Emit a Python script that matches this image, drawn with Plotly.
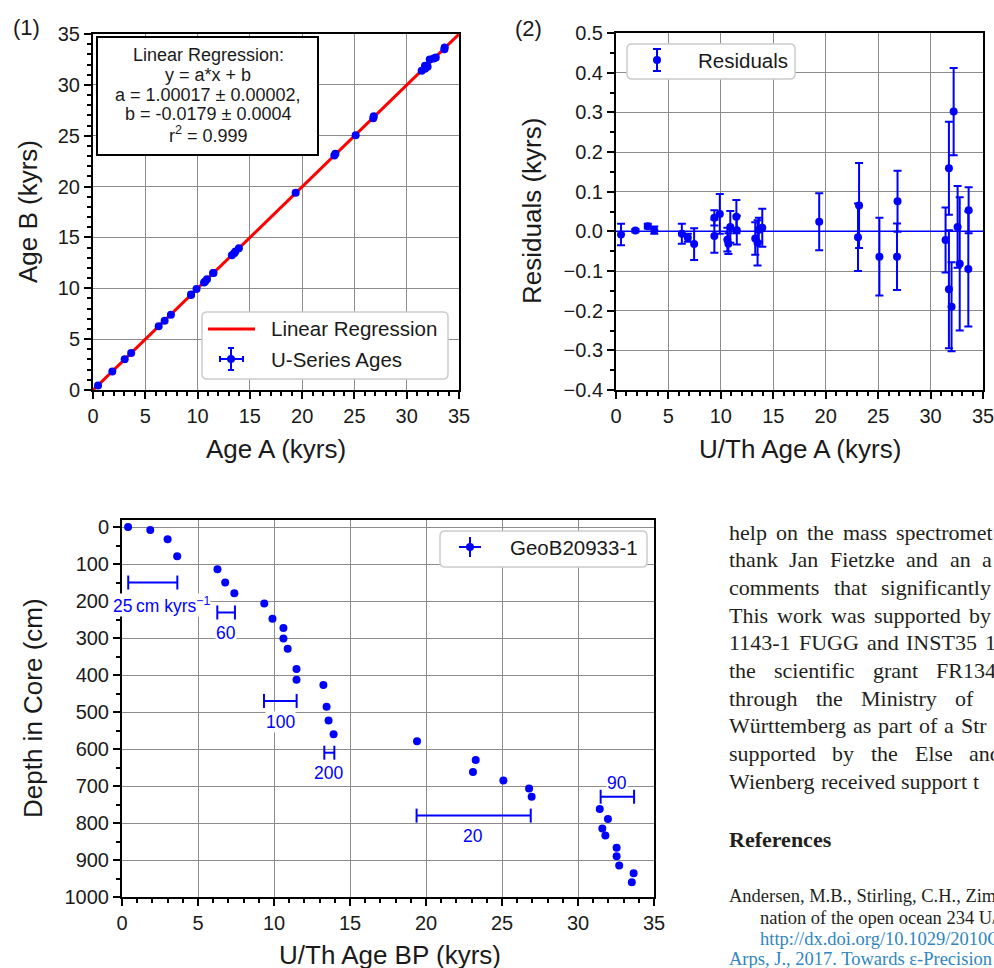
import plotly.graph_objects as go

W, H = 994, 968

# (1) + (2): age A vs age B, residuals
age_a = [0.48, 1.85, 3.03, 3.65, 6.28, 6.85, 7.45, 9.38, 9.38, 9.90, 10.62, 10.72, 10.90, 11.48, 11.52,
         13.28, 13.50, 13.62, 13.95, 19.38, 23.08, 23.18, 25.12, 26.80, 26.85,
         31.43, 31.75, 31.75, 32.00, 32.20, 32.58, 32.78, 33.60, 33.63]
age_b = [0.45, 1.83, 3.03, 3.63, 6.26, 6.82, 7.40, 9.40, 9.35, 9.93, 10.58, 10.67, 10.89, 11.50, 11.51,
         13.24, 13.45, 13.61, 13.94, 19.39, 23.05, 23.23, 25.04, 26.72, 26.91,
         31.39, 31.89, 31.59, 31.79, 32.49, 32.58, 32.68, 33.49, 33.67]
residuals = [-0.008, 0.002, 0.013, 0.003, -0.006, -0.016, -0.032, 0.034, -0.012, 0.044, -0.021, -0.031, 0.011,
             0.037, 0.003, -0.018, -0.029, 0.004, 0.009, 0.024, -0.015, 0.065, -0.064, -0.064, 0.076,
             -0.022, 0.159, -0.146, -0.190, 0.302, 0.011, -0.082, -0.095, 0.053]
res_err = [0.027, 0.004, 0.006, 0.009, 0.025, 0.010, 0.040, 0.019, 0.042, 0.050, 0.030, 0.026, 0.040,
           0.042, 0.036, 0.041, 0.057, 0.030, 0.048, 0.072, 0.085, 0.107, 0.098, 0.084, 0.077,
           0.082, 0.117, 0.149, 0.112, 0.110, 0.103, 0.168, 0.145, 0.058]
reg_x = [0, 35]
reg_y = [-0.018, 34.988]
fit_lines = ["Linear Regression:", "y = a*x + b", "a = 1.00017 \u00b1 0.00002,",
             "b = -0.0179 \u00b1 0.0004", "r<sup>2</sup> = 0.999"]

# (3): depth profile GeoB20933-1
core_age = [0.40, 1.86, 3.00, 3.63, 6.28, 6.79, 7.39, 9.36, 9.90, 10.62, 10.62, 10.90, 11.48, 11.48,
            13.25, 13.46, 13.59, 13.92, 19.41, 23.27, 23.09, 25.09, 26.78, 26.95,
            31.43, 31.97, 31.60, 31.80, 32.54, 32.54, 32.71, 33.66, 33.54]
core_depth = [0, 8, 33, 79, 114, 150, 179, 207, 248, 273, 301, 329, 384, 413,
              427, 486, 523, 560, 579, 630, 662, 685, 707, 729,
              762, 789, 815, 834, 867, 890, 915, 936, 960]
core_err = [0.05] * len(core_age)
rate_labels = ["25\u2009cm kyrs<sup>\u22121</sup>", "60", "100", "200", "20", "90"]
rate_start = [0.41, 6.27, 9.34, 13.31, 19.38, 31.49]
rate_end = [3.64, 7.43, 11.49, 13.97, 26.89, 33.69]
rate_depth = [150, 231, 470, 610, 780, 729]
rate_lab_age = [2.6, 6.85, 10.4, 13.6, 23.12, 32.54]
rate_lab_depth = [210, 286, 527, 665, 835, 693]

BLUE = "#0000ff"
SANS = "Liberation Sans"
SERIF = "Liberation Serif"


def px(x):
    return x / W


def py(y):
    return 1 - y / H


fig = go.Figure()

# panel 1
fig.add_trace(go.Scatter(x=reg_x, y=reg_y, mode="lines", line=dict(color="#ff0000", width=3),
                         xaxis="x", yaxis="y", showlegend=False))
fig.add_trace(go.Scatter(x=age_a, y=age_b, mode="markers", marker=dict(color=BLUE, size=8),
                         error_x=dict(type="data", array=res_err, color=BLUE, thickness=1.5, width=3),
                         error_y=dict(type="data", array=res_err, color=BLUE, thickness=1.5, width=3),
                         xaxis="x", yaxis="y", showlegend=False))

# panel 2
fig.add_trace(go.Scatter(x=[0, 35], y=[0, 0], mode="lines", line=dict(color=BLUE, width=1.5),
                         xaxis="x2", yaxis="y2", showlegend=False))
fig.add_trace(go.Scatter(x=age_a, y=residuals, mode="markers", marker=dict(color=BLUE, size=8),
                         error_y=dict(type="data", array=res_err, color=BLUE, thickness=2, width=4),
                         xaxis="x2", yaxis="y2", showlegend=False))

# panel 3
seg_x, seg_y = [], []
for s, e, d in zip(rate_start, rate_end, rate_depth):
    seg_x += [s, e, None]
    seg_y += [d, d, None]
fig.add_trace(go.Scatter(x=seg_x, y=seg_y, mode="lines+markers", line=dict(color=BLUE, width=2),
                         marker=dict(symbol="line-ns-open", size=10, line=dict(color=BLUE, width=2)),
                         xaxis="x3", yaxis="y3", showlegend=False))
fig.add_trace(go.Scatter(x=core_age, y=core_depth, mode="markers", marker=dict(color=BLUE, size=8),
                         error_x=dict(type="data", array=core_err, color=BLUE, thickness=1, width=0),
                         error_y=dict(type="data", array=core_err, color=BLUE, thickness=1, width=0),
                         xaxis="x3", yaxis="y3", showlegend=False))


def ax(dom, rng, dtick, minor, anchor, **kw):
    d = dict(domain=dom, range=rng, dtick=dtick, anchor=anchor, showline=True, linewidth=2,
             linecolor="black", mirror=True, ticks="outside", ticklen=7, tickwidth=2,
             tickcolor="black", showgrid=True, gridcolor="#8c8c8c", gridwidth=1.2, zeroline=False,
             automargin=False, ticklabeloverflow="allow",
             tickfont=dict(family=SANS, size=20, color="#1a1a1a"),
             minor=dict(dtick=minor, ticks="outside", ticklen=4, tickwidth=1.5,
                        tickcolor="black", showgrid=False))
    d.update(kw)
    return d


fig.update_layout(
    width=W, height=H, margin=dict(l=0, r=0, t=0, b=0, pad=0, autoexpand=False),
    paper_bgcolor="white", plot_bgcolor="white", showlegend=False,
    xaxis=ax([px(93), px(459)], [0, 35], 5, 1, "y", tick0=0),
    yaxis=ax([py(390), py(34)], [0, 35], 5, 1, "x", tick0=0),
    xaxis2=ax([px(616), px(983)], [0, 35], 5, 1, "y2", tick0=0),
    yaxis2=ax([py(390), py(33)], [-0.4, 0.5], 0.1, 0.05, "x2", tick0=0, tickformat=".1f"),
    xaxis3=ax([px(122), px(654)], [0, 35], 5, 1, "y3", tick0=0),
    yaxis3=ax([py(897), py(520)], [1000, -19], 100, 50, "x3", tick0=0),
)

ann = []
shapes = []


def text(x, y, s, size, family=SANS, color="#1a1a1a", xanchor="center", angle=0, **kw):
    ann.append(dict(x=px(x), y=py(y), xref="paper", yref="paper", text=s, showarrow=False,
                    xanchor=xanchor, yanchor="middle", textangle=angle,
                    font=dict(family=family, size=size, color=color), **kw))


def rbox(x0, y0, x1, y1, r=5, line="#cccccc", width=1.5):
    p = (f"M {px(x0 + r)},{py(y0)} L {px(x1 - r)},{py(y0)} Q {px(x1)},{py(y0)} {px(x1)},{py(y0 + r)} "
         f"L {px(x1)},{py(y1 - r)} Q {px(x1)},{py(y1)} {px(x1 - r)},{py(y1)} "
         f"L {px(x0 + r)},{py(y1)} Q {px(x0)},{py(y1)} {px(x0)},{py(y1 - r)} "
         f"L {px(x0)},{py(y0 + r)} Q {px(x0)},{py(y0)} {px(x0 + r)},{py(y0)} Z")
    shapes.append(dict(type="path", path=p, xref="paper", yref="paper", fillcolor="white",
                       line=dict(color=line, width=width), layer="above"))


def seg(x0, y0, x1, y1, color=BLUE, width=2):
    shapes.append(dict(type="line", xref="paper", yref="paper", x0=px(x0), y0=py(y0), x1=px(x1),
                       y1=py(y1), line=dict(color=color, width=width), layer="above"))


def dot(cx, cy, r=4):
    shapes.append(dict(type="circle", xref="paper", yref="paper", x0=px(cx - r), x1=px(cx + r),
                       y0=py(cy + r), y1=py(cy - r), fillcolor=BLUE, line=dict(width=0),
                       layer="above"))


# panel labels and axis titles
text(26, 27, "(1)", 22)
text(528, 28, "(2)", 22)
text(276, 449, "Age A (kyrs)", 26)
text(28, 212, "Age B (kyrs)", 26, angle=-90)
text(800, 449, "U/Th Age A (kyrs)", 26)
text(532, 211, "Residuals (kyrs)", 26, angle=-90)
text(390, 955, "U/Th Age BP (kyrs)", 26)
text(33, 708, "Depth in Core (cm)", 26, angle=-90)

# fit box in panel 1
shapes.append(dict(type="rect", xref="paper", yref="paper", x0=px(97), x1=px(318), y0=py(37),
                   y1=py(155), fillcolor="white", line=dict(color="black", width=2), layer="above"))
for i, s in enumerate(fit_lines):
    text(208, 55 + 19.8 * i, s, 18)

# legend panel 1
rbox(202, 312, 448, 379)
seg(208, 329, 255, 329, color="#ff0000", width=3)
seg(220, 359, 243, 359)
seg(231, 348, 231, 370)
seg(228, 348, 234, 348)
seg(228, 370, 234, 370)
seg(220, 356, 220, 362)
seg(243, 356, 243, 362)
dot(231, 359)
text(269, 329, "Linear Regression", 20.5, xanchor="left")
text(269, 359, "U-Series Ages", 20.5, xanchor="left")

# legend panel 2
rbox(627, 44, 795, 79)
seg(657, 49, 657, 71)
seg(653, 49, 661, 49)
seg(653, 71, 661, 71)
dot(657, 60)
text(696, 60, "Residuals", 20.5, xanchor="left")

# legend panel 3
rbox(440, 531, 647, 567)
seg(459, 547, 481, 547)
seg(470, 537, 470, 557)
dot(470, 547)
text(508, 547, "GeoB20933-1", 20.5, xanchor="left")

# rate labels (data coords)
for lab, a, d in zip(rate_labels, rate_lab_age, rate_lab_depth):
    ann.append(dict(x=a, y=d, xref="x3", yref="y3", text=lab, showarrow=False, bgcolor="white",
                    borderpad=0, font=dict(family=SANS, size=17.5, color=BLUE)))

# page text to the right (justified lines, cut at the page edge)
TIMES = {c: w for c, w in zip("abcdefghijklmnopqrstuvwxyz",
                              [444, 500, 444, 500, 444, 333, 500, 500, 278, 278, 500, 278, 778,
                               500, 500, 500, 500, 333, 389, 278, 500, 500, 722, 500, 500, 444])}
TIMES.update({"T": 611, "F": 556, "U": 722, "G": 722, "I": 333, "N": 722, "S": 556, "R": 667,
              "M": 889, "W": 944, "E": 611, "J": 389, "-": 333, "\u00fc": 500})
body = [
    ("help on the mass spectromet", 894),
    ("thank Jan Fietzke and an a", 980),
    ("comments that significantly", 879),
    ("This work was supported by", 967),
    ("1143-1 FUGG and INST35 1", 983),
    ("the scientific grant FR134", 934),
    ("through the Ministry of", 953),
    ("W\u00fcrttemberg as part of a Str", 959),
    ("supported by the Else and", 967),
    ("Wienberg received support t", 963),
]
BODY_FS = 22
TXT = "#231f20"
for i, (line, last_x) in enumerate(body):
    words = line.split(" ")
    widths = [sum(TIMES.get(c, 500) for c in w) / 1000 * BODY_FS for w in words]
    gap = max((last_x - 727 - sum(widths[:-1])) / (len(words) - 1), 0.25 * BODY_FS)
    x = 727
    for w, wd in zip(words, widths):
        text(x, 532 + 27.7 * i, w, BODY_FS, family=SERIF, color=TXT, xanchor="left")
        x += wd + gap
text(727, 839, "<b>References</b>", 22, family=SERIF, color=TXT, xanchor="left")
LINK = "#2f86c0"
REF_FS = 18.5
text(727, 896, "Andersen, M.B., Stirling, C.H., Zimmermann, B.", REF_FS, family=SERIF, color=TXT,
     xanchor="left")
text(758, 918, "nation of the open ocean 234 U/238 U composition.", REF_FS, family=SERIF, color=TXT,
     xanchor="left")
text(758, 939, "http://dx.doi.org/10.1029/2010GC003318.", REF_FS, family=SERIF, color=LINK,
     xanchor="left")
text(727, 959, "Arps, J., 2017. Towards \u03b5-Precision of U-series", REF_FS, family=SERIF, color=LINK,
     xanchor="left")

fig.update_layout(annotations=ann, shapes=shapes)
# drop the default page margin so the figure sits at the window's top-left corner
fig.write_html("out.html", config={"displayModeBar": False},
               post_script="document.body.style.margin = '0px';")
